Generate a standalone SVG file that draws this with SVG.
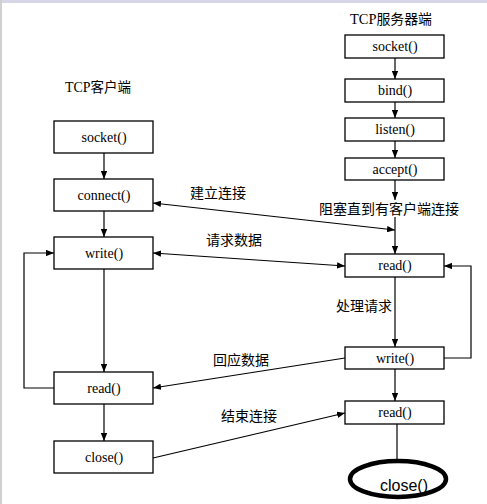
<svg xmlns="http://www.w3.org/2000/svg" width="487" height="504" viewBox="0 0 487 504">
<style>
.box{fill:#fff;stroke:#000;stroke-width:1.3}
.t{font-family:"Liberation Serif","Noto Sans CJK SC",serif;font-size:14px;fill:#000;text-anchor:middle}
.cn{font-family:"Noto Sans CJK SC","Liberation Sans",sans-serif;font-size:14px;fill:#000;text-anchor:middle}
.ttl{font-family:"Noto Sans CJK SC","Liberation Sans",sans-serif;font-size:13.5px;fill:#000}
.ln{stroke:#000;stroke-width:1.2;fill:none}
</style>
<defs>
<marker id="ah" viewBox="0 0 10 8" refX="10" refY="4" markerWidth="8" markerHeight="6.5" markerUnits="userSpaceOnUse" orient="auto-start-reverse">
<path d="M0,0 L10,4 L0,8 Z" fill="#000"/>
</marker>
</defs>
<rect x="0" y="0" width="487" height="504" fill="#fff"/>
<rect x="0" y="0" width="487" height="3" fill="#d6d6e6"/>
<rect x="0" y="0" width="2" height="504" fill="#d0d0d0"/>

<text class="ttl" x="350" y="24" textLength="82" lengthAdjust="spacingAndGlyphs"><tspan font-family="Liberation Serif" font-size="14">TCP</tspan>服务器端</text>
<text class="ttl" x="65" y="92" textLength="66" lengthAdjust="spacingAndGlyphs"><tspan font-family="Liberation Serif" font-size="14">TCP</tspan>客户端</text>

<g id="connectors">
<line class="ln" x1="104" y1="153" x2="104" y2="179" marker-end="url(#ah)"/>
<line class="ln" x1="104" y1="211" x2="104" y2="237" marker-end="url(#ah)"/>
<line class="ln" x1="104" y1="269" x2="104" y2="372" marker-end="url(#ah)"/>
<line class="ln" x1="104" y1="404" x2="104" y2="441" marker-end="url(#ah)"/>
<polyline class="ln" points="54,388 24,388 24,253 54,253" marker-end="url(#ah)"/>

<line class="ln" x1="395" y1="58" x2="395" y2="79" marker-end="url(#ah)"/>
<line class="ln" x1="395" y1="102" x2="395" y2="118" marker-end="url(#ah)"/>
<line class="ln" x1="395" y1="141" x2="395" y2="158" marker-end="url(#ah)"/>
<line class="ln" x1="395" y1="180" x2="395" y2="200" marker-end="url(#ah)"/>
<line class="ln" x1="395" y1="217" x2="395" y2="254" marker-end="url(#ah)"/>
<line class="ln" x1="395" y1="277" x2="395" y2="347" marker-end="url(#ah)"/>
<line class="ln" x1="395" y1="369" x2="395" y2="401" marker-end="url(#ah)"/>
<line class="ln" x1="397" y1="424" x2="397" y2="461"/>
<polyline class="ln" points="444,358 471,358 471,266 444,266" marker-end="url(#ah)"/>

<line class="ln" x1="153" y1="203" x2="395" y2="230" marker-start="url(#ah)" marker-end="url(#ah)"/>
<line class="ln" x1="153" y1="253" x2="345" y2="266" marker-start="url(#ah)" marker-end="url(#ah)"/>
<line class="ln" x1="345" y1="358" x2="153" y2="388" marker-end="url(#ah)"/>
<line class="ln" x1="153" y1="458" x2="345" y2="413" marker-end="url(#ah)"/>

<text class="cn" x="218" y="198">建立连接</text>
<text class="cn" x="234" y="245">请求数据</text>
<text class="cn" x="241" y="365">回应数据</text>
<text class="cn" x="249" y="421">结束连接</text>
<text class="cn" x="389" y="214">阻塞直到有客户端连接</text>
<text class="cn" x="364" y="311">处理请求</text>
</g>

<g id="c_socket"><rect class="box" x="54" y="121" width="99" height="32"/><text class="t" x="104" y="142">socket()</text></g>
<g id="c_connect"><rect class="box" x="54" y="179" width="99" height="32"/><text class="t" x="104" y="200">connect()</text></g>
<g id="c_write"><rect class="box" x="54" y="237" width="99" height="32"/><text class="t" x="104" y="258">write()</text></g>
<g id="c_read"><rect class="box" x="54" y="372" width="99" height="32"/><text class="t" x="104" y="393">read()</text></g>
<g id="c_close"><rect class="box" x="54" y="441" width="99" height="32"/><text class="t" x="104" y="462">close()</text></g>

<g id="s_socket"><rect class="box" x="345" y="35" width="99" height="23"/><text class="t" x="395" y="51">socket()</text></g>
<g id="s_bind"><rect class="box" x="345" y="79" width="99" height="23"/><text class="t" x="395" y="95">bind()</text></g>
<g id="s_listen"><rect class="box" x="345" y="118" width="99" height="23"/><text class="t" x="395" y="134">listen()</text></g>
<g id="s_accept"><rect class="box" x="345" y="158" width="99" height="22"/><text class="t" x="395" y="174">accept()</text></g>
<g id="s_read"><rect class="box" x="345" y="254" width="99" height="23"/><text class="t" x="395" y="270">read()</text></g>
<g id="s_write"><rect class="box" x="345" y="347" width="99" height="22"/><text class="t" x="395" y="363">write()</text></g>
<g id="s_read2"><rect class="box" x="345" y="401" width="99" height="23"/><text class="t" x="395" y="417">read()</text></g>
<g id="s_close"><ellipse cx="398" cy="479" rx="48" ry="18" fill="#fff" stroke="#000" stroke-width="4.5"/><text x="404" y="491" font-family="Liberation Sans, sans-serif" font-size="16" text-anchor="middle" fill="#000">close()</text></g>
</svg>
